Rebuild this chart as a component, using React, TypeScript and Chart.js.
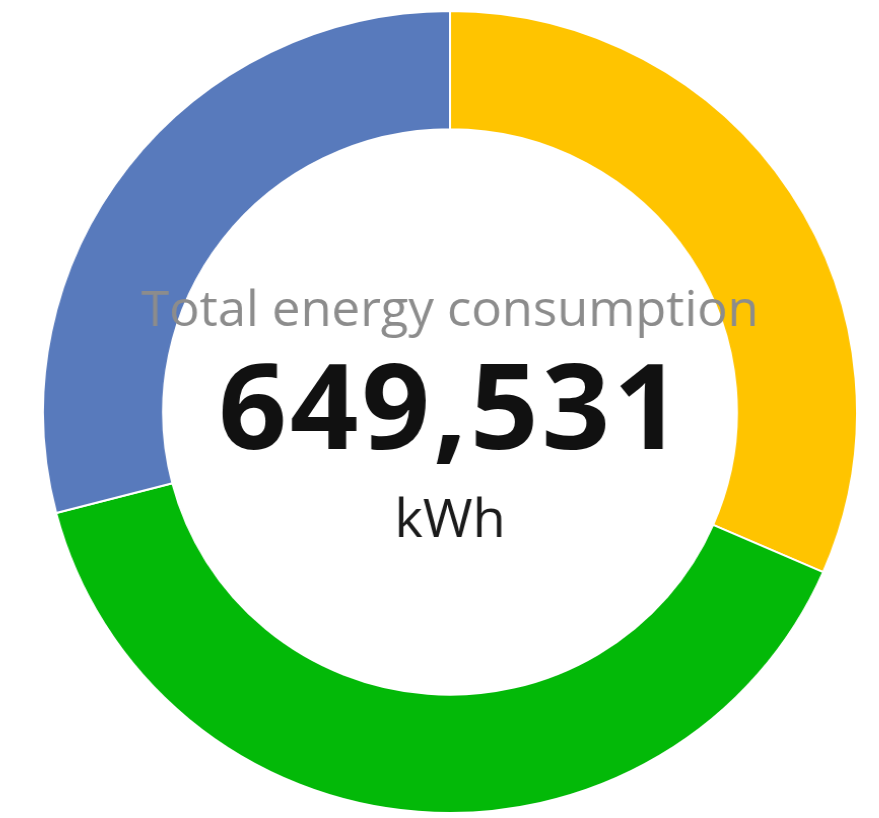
import React, { useEffect, useRef } from "react";
import { Chart, registerables } from "chart.js";

Chart.register(...registerables);

const categories = ["Source A", "Source B", "Source C"];
const values = [204836, 255968, 188727];
const colors = ["rgb(255,196,0)", "rgb(3,185,8)", "rgb(88,122,188)"];
const titleText = "Total energy consumption";
const totalText = "649,531";
const unitText = "kWh";

const centerTextPlugin = {
  id: "centerText",
  afterDraw(chart: any) {
    const ctx = chart.ctx as any;
    const meta = chart.getDatasetMeta(0);
    const arc = meta.data[0];
    const cx = arc.x;
    const cy = arc.y;
    ctx.save();
    ctx.textAlign = "center";
    ctx.textBaseline = "alphabetic";
    ctx.fillStyle = "rgb(140,140,140)";
    ctx.font = "400 50px 'Open Sans', sans-serif";
    ctx.fillText(titleText, cx, cy - 86);
    ctx.fillStyle = "#111111";
    ctx.font = "700 118px 'Open Sans', sans-serif";
    ctx.letterSpacing = "3px";
    ctx.fillText(totalText, cx + 1.5, cy + 37);
    ctx.letterSpacing = "0px";
    ctx.fillStyle = "#1a1a1a";
    ctx.font = "400 53px 'Open Sans', sans-serif";
    ctx.fillText(unitText, cx, cy + 125);
    ctx.restore();
  },
};

export default function App() {
  const ref = useRef<HTMLCanvasElement>(null);
  useEffect(() => {
    if (!ref.current) return;
    const chart = new Chart(ref.current, {
      type: "doughnut",
      data: {
        labels: categories,
        datasets: [
          {
            data: values,
            backgroundColor: colors,
            borderColor: "#ffffff",
            borderWidth: 2,
          },
        ],
      },
      options: {
        responsive: false,
        animation: false,
        devicePixelRatio: 1,
        cutout: "70.5%",
        layout: { padding: 0 },
        plugins: {
          legend: { display: false },
          tooltip: { enabled: false },
        },
      },
      plugins: [centerTextPlugin],
    });
    return () => chart.destroy();
  }, []);
  return (
    <div style={{ position: "absolute", left: "42px", top: "10px" }}>
      <canvas
        ref={ref}
        width={804}
        height={804}
        style={{ width: "816px", height: "804px" }}
      />
    </div>
  );
}
